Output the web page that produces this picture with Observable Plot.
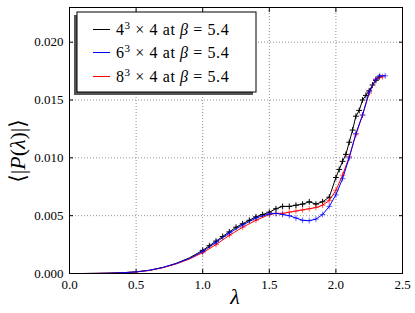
<!DOCTYPE html>
<html><head><meta charset="utf-8">
<script src="https://cdn.jsdelivr.net/npm/d3@7"></script>
<script src="https://cdn.jsdelivr.net/npm/@observablehq/plot@0.6"></script>
<style>body{margin:0;background:#fff} svg, svg text{font-family:"Liberation Serif","DejaVu Serif",serif !important}</style>
</head><body><div id="chart"></div>
<script>
const FONT = '"Liberation Serif", "DejaVu Serif", serif';
const xTicks = [0, 0.5, 1.0, 1.5, 2.0, 2.5];
const yTicks = [0, 0.005, 0.010, 0.015, 0.020];
const seriesNames = ["4³ × 4", "6³ × 4", "8³ × 4"];
const seriesColors = ["#000000", "#0000ff", "#ff0000"];

const lam4 = [0.0,0.1,0.2,0.3,0.4,0.5,0.6,0.7,0.8,0.9,1.0,1.05,1.1,1.15,1.2,1.25,1.3,1.35,1.4,1.45,1.5,1.55,1.6,1.65,1.7,1.75,1.8,1.85,1.9,1.95,2.0,2.025,2.05,2.075,2.1,2.125,2.15,2.175,2.2,2.225,2.25,2.275,2.3,2.325];
const p4 = [0,0,0.00001,0.00003,0.00007,0.00014,0.00028,0.00052,0.00087,0.00135,0.0020,0.0024,0.0028,0.0032,0.0036,0.0040,0.0043,0.0046,0.0049,0.0051,0.0053,0.0056,0.0058,0.0058,0.0059,0.0060,0.0062,0.0060,0.0062,0.0066,0.0083,0.0090,0.0097,0.0103,0.01135,0.0124,0.0136,0.0141,0.0150,0.0154,0.0158,0.0163,0.0167,0.0170];

const lam6 = [0.0,0.1,0.2,0.3,0.4,0.5,0.6,0.7,0.8,0.9,1.0,1.1,1.2,1.3,1.4,1.5,1.55,1.6,1.65,1.7,1.75,1.8,1.85,1.9,1.95,2.0,2.05,2.1,2.15,2.2,2.25,2.3,2.33,2.37];
const p6 = [0,0,0.00001,0.00003,0.00007,0.00014,0.00028,0.00052,0.00086,0.0013,0.0019,0.0027,0.0035,0.0042,0.0048,0.00515,0.0052,0.0051,0.0050,0.0048,0.0046,0.00457,0.0047,0.0051,0.0058,0.0068,0.0082,0.0100,0.0121,0.0137,0.0157,0.0168,0.0171,0.0171];

const lam8 = [0.0,0.1,0.2,0.3,0.4,0.5,0.6,0.7,0.8,0.9,1.0,1.1,1.2,1.3,1.4,1.5,1.55,1.6,1.65,1.7,1.75,1.8,1.85,1.9,1.95,2.0,2.05,2.1,2.15,2.2,2.25,2.3,2.35];
const p8 = [0,0,0.00001,0.00003,0.00007,0.00013,0.00026,0.0005,0.00082,0.00125,0.0018,0.0025,0.0033,0.0040,0.0046,0.0051,0.0052,0.0052,0.0053,0.0054,0.0055,0.0056,0.0057,0.0059,0.0063,0.0072,0.0085,0.0101,0.0120,0.0137,0.0156,0.0168,0.0170];

const mk = (lam, p, s) => lam.map((l, i) => ({lam: l, p: p[i], s}));
const d4 = mk(lam4, p4, 0), d6 = mk(lam6, p6, 1), d8 = mk(lam8, p8, 2);
const order = [d4, d8, d6];
const blank = () => "";

const marks = [
  Plot.gridX(xTicks, {stroke: "#777", strokeOpacity: 0.8, strokeDasharray: "1,2"}),
  Plot.gridY(yTicks, {stroke: "#777", strokeOpacity: 0.8, strokeDasharray: "1,2"}),
  Plot.axisX(xTicks, {anchor: "bottom", tickSize: 0, tickPadding: 6, tickFormat: d3.format(".1f"), fontSize: 13, fontFamily: FONT, label: null}),
  Plot.axisY(yTicks, {anchor: "left", tickSize: 0, tickPadding: 6, tickFormat: d3.format(".3f"), fontSize: 13, fontFamily: FONT, label: null}),
  Plot.axisX(xTicks, {anchor: "bottom", tickSize: -4, tickFormat: blank, label: null}),
  Plot.axisX(xTicks, {anchor: "top", tickSize: -4, tickFormat: blank, label: null}),
  Plot.axisY(yTicks, {anchor: "left", tickSize: -4, tickFormat: blank, label: null}),
  Plot.axisY(yTicks, {anchor: "right", tickSize: -4, tickFormat: blank, label: null}),
];
for (const d of order) {
  const c = seriesColors[d[0].s];
  marks.push(Plot.line(d, {x: "lam", y: "p", stroke: c, strokeWidth: 1}));
  marks.push(Plot.dot(d.filter(e => e.lam >= 1.0), {x: "lam", y: "p", symbol: "plus", r: 2, stroke: c, strokeWidth: 1, strokeOpacity: d[0].s === 0 ? 1 : 0.6}));
}
marks.push(Plot.frame({stroke: "#000", strokeWidth: 1}));

const plot = Plot.plot({
  width: 415, height: 313,
  marginLeft: 69, marginRight: 13, marginTop: 7, marginBottom: 40,
  x: {domain: [0, 2.5]},
  y: {domain: [0, 0.023]},
  style: {fontFamily: FONT, fontSize: "13px", color: "#000", background: "#fff"},
  marks
});
document.getElementById("chart").appendChild(plot);

const svg = d3.select(plot);
// axis labels
svg.append("text").attr("x", 235).attr("y", 304).attr("text-anchor", "middle").attr("font-family", FONT)
  .attr("font-size", 22).attr("font-style", "italic").attr("fill", "#000").text("λ");
const yl = svg.append("text").attr("transform", "translate(25,151) rotate(-90)").attr("font-family", FONT)
  .attr("text-anchor", "middle").attr("font-size", 22).attr("fill", "#000");
yl.append("tspan").text("⟨|");
yl.append("tspan").attr("font-style", "italic").text("P");
yl.append("tspan").text("(");
yl.append("tspan").attr("font-style", "italic").text("λ");
yl.append("tspan").text(")|⟩");

// legend
const lg = svg.append("g").attr("text-anchor", "start").attr("font-family", FONT);
lg.append("rect").attr("x", 74).attr("y", 15).attr("width", 179).attr("height", 80).attr("fill", "#555");
lg.append("rect").attr("x", 77).attr("y", 12).attr("width", 179).attr("height", 80).attr("fill", "#fff").attr("stroke", "#000").attr("stroke-width", 1);
const rowY = [29.5, 52.5, 76.5];
seriesNames.forEach((name, i) => {
  lg.append("line").attr("x1", 93).attr("x2", 110).attr("y1", rowY[i]).attr("y2", rowY[i])
    .attr("stroke", seriesColors[i]).attr("stroke-width", 1);
  const t = lg.append("text").attr("x", 116).attr("y", rowY[i] + 5).attr("font-size", 16)
    .attr("text-anchor", "start").attr("fill", "#000").attr("letter-spacing", 0.6);
  t.append("tspan").text(name.slice(0,1));
  t.append("tspan").attr("font-size", 11).attr("dy", -6).text("3");
  t.append("tspan").attr("dy", 6).text(" × 4 at ");
  t.append("tspan").attr("font-style", "italic").text("β");
  t.append("tspan").text(" = 5.4");
});
</script></body></html>
